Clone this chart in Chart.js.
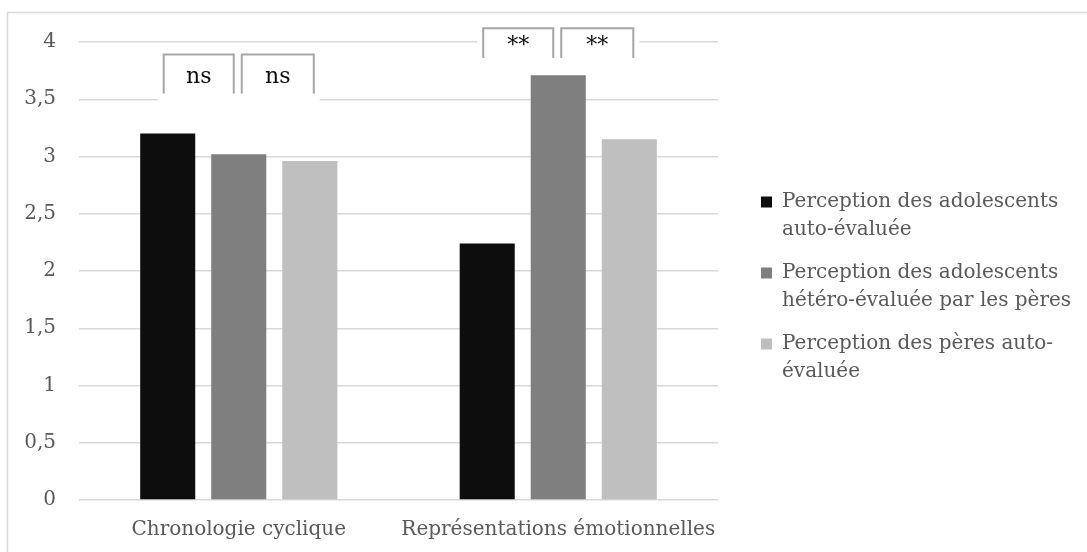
<!DOCTYPE html>
<html>
<head>
<meta charset="utf-8">
<script src="https://cdn.jsdelivr.net/npm/chart.js@4"></script>
<style>
  body { margin: 0; background: #fff; }
  #wrap { width: 1087px; height: 552px; }
</style>
</head>
<body>
<div id="wrap"><canvas id="myChart" width="1087" height="552"></canvas></div>
<script>
const categories = ['Chronologie cyclique', 'Représentations émotionnelles'];
const seriesLabels = [
    'Perception des adolescents\nauto-évaluée',
    'Perception des adolescents\nhétéro-évaluée par les pères',
    'Perception des pères auto-\névaluée'
];
const adoAuto = [3.2, 2.24];
const adoHetero = [3.02, 3.71];
const peresAuto = [2.96, 3.15];
const signifLabels = [['ns', 'ns'], ['**', '**']];

const font = "'DejaVu Serif', serif";
const grey = '#595959';

// cadre gris autour du graphique
const frame = {
    id: 'frame',
    beforeDraw(chart) {
        const ctx = chart.ctx;
        ctx.save();
        ctx.fillStyle = '#fff';
        ctx.fillRect(0, 0, chart.width, chart.height);
        ctx.strokeStyle = '#d9d9d9';
        ctx.lineWidth = 1.5;
        ctx.strokeRect(7.5, 12.5, 2000, 2000);
        ctx.restore();
    }
};

// accolades de significativité
const brackets = {
    id: 'brackets',
    afterDatasetsDraw(chart, args, opts) {
        const ctx = chart.ctx;
        const yScale = chart.scales.y;
        categories.forEach((cat, i) => {
            const cx = [0, 1, 2].map(d => chart.getDatasetMeta(d).data[i].x);
            const top = yScale.getPixelForValue(opts.tops[i]);
            const bottom = yScale.getPixelForValue(opts.bottoms[i]);
            const spans = [[cx[0] - 4, cx[1] - 5], [cx[1] + 3, cx[2] + 4]];

            ctx.save();
            ctx.fillStyle = '#fff';
            ctx.fillRect(spans[0][0] - 6, top - 2, spans[1][1] - spans[0][0] + 12, bottom - top + 10);

            ctx.strokeStyle = '#a6a6a6';
            ctx.lineWidth = 2;
            spans.forEach((s, k) => {
                ctx.beginPath();
                ctx.moveTo(s[0], bottom);
                ctx.lineTo(s[0], top);
                ctx.lineTo(s[1], top);
                ctx.lineTo(s[1], bottom);
                ctx.stroke();

                ctx.fillStyle = '#0d0d0d';
                ctx.font = '22px ' + font;
                ctx.textAlign = 'center';
                ctx.textBaseline = 'middle';
                ctx.fillText(signifLabels[i][k], (s[0] + s[1]) / 2, (top + bottom) / 2 + 3);
            });
            ctx.restore();
        });
    }
};

function drawChart() {
    const ctx = document.getElementById('myChart').getContext('2d');
    new Chart(ctx, {
        type: 'bar',
        data: {
            labels: categories,
            datasets: [{
                label: seriesLabels[0],
                data: adoAuto,
                backgroundColor: '#0d0d0d'
            }, {
                label: seriesLabels[1],
                data: adoHetero,
                backgroundColor: '#7f7f7f'
            }, {
                label: seriesLabels[2],
                data: peresAuto,
                backgroundColor: '#bfbfbf'
            }]
        },
        options: {
            responsive: false,
            animation: false,
            layout: { padding: { top: 42, right: 11, bottom: 12, left: 0 } },
            datasets: {
                bar: { categoryPercentage: 0.667, barPercentage: 0.775 }
            },
            scales: {
                x: {
                    grid: { display: false, drawTicks: false },
                    border: { display: false },
                    ticks: {
                        color: grey,
                        padding: 18,
                        maxRotation: 0,
                        minRotation: 0,
                        autoSkip: false,
                        font: { family: font, size: 20 }
                    },
                    afterFit: s => { s.height = 40; s.paddingLeft = 0; s.paddingRight = 0; }
                },
                y: {
                    min: 0,
                    max: 4,
                    border: { display: false },
                    grid: { color: '#d9d9d9', lineWidth: 1.5, drawTicks: false },
                    ticks: {
                        stepSize: 0.5,
                        color: grey,
                        padding: 23,
                        font: { family: font, size: 20 },
                        callback: v => String(v).replace('.', ',')
                    },
                    afterFit: s => { s.width = 79; }
                },
                spacer: {
                    type: 'linear',
                    position: 'right',
                    grid: { display: false },
                    border: { display: false },
                    ticks: { display: false },
                    afterFit: s => { s.width = 28; }
                }
            },
            plugins: {
                tooltip: { enabled: false },
                legend: {
                    position: 'right',
                    align: 'center',
                    maxWidth: 330,
                    labels: {
                        color: grey,
                        boxWidth: 11,
                        boxHeight: 11,
                        padding: 15,
                        font: { family: font, size: 20, lineHeight: 1.4 },
                        generateLabels: chart => Chart.defaults.plugins.legend.labels.generateLabels(chart)
                            .map(item => Object.assign(item, { text: item.text.split('\n'), lineWidth: 0 }))
                    }
                },
                brackets: { tops: [3.89, 4.12], bottoms: [3.55, 3.86] }
            }
        },
        plugins: [frame, brackets]
    });
}

drawChart();
</script>
</body>
</html>
